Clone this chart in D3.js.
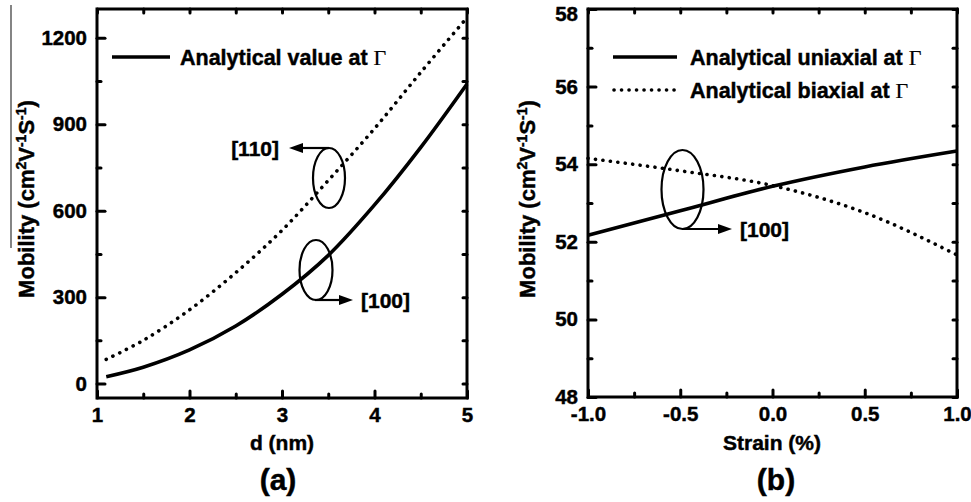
<!DOCTYPE html>
<html><head><meta charset="utf-8">
<script src="https://cdn.jsdelivr.net/npm/d3@7"></script>
<style>
html,body{margin:0;padding:0;background:#fff;}
svg{display:block;}
text{font-family:"Liberation Sans",Arial,sans-serif;font-weight:bold;fill:#000;stroke:#000;stroke-width:0.45px;}
</style></head>
<body>
<svg id="c" width="971" height="502"></svg>
<script>
// ---- data ----
const dNm = [1.1, 1.5, 2, 2.5, 3, 3.5, 4, 4.5, 5];
const mob100 = [24, 57, 117, 200, 310, 445, 620, 820, 1040];
const mob110 = [84, 150, 256, 385, 532, 705, 885, 1080, 1270];
const strain = [-1, -0.5, 0, 0.5, 1];
const uniaxial = [52.17, 52.80, 53.43, 53.93, 54.34];
const biaxial = [54.15, 53.83, 53.45, 52.75, 51.66];
const xTicksA = [1, 2, 3, 4, 5];
const xMinorA = [1.5, 2.5, 3.5, 4.5];
const yTicksA = [0, 300, 600, 900, 1200];
const yMinorA = [150, 450, 750, 1050];
const xTicksB = [-1, -0.5, 0, 0.5, 1];
const xMinorB = [-0.75, -0.25, 0.25, 0.75];
const yTicksB = [48, 50, 52, 54, 56, 58];
const yMinorB = [49, 51, 53, 55, 57];

const svg = d3.select("#c");

function panel(o) {
  const g = svg.append("g");
  const x = d3.scaleLinear().domain(o.xd).range([o.l, o.r]);
  const y = d3.scaleLinear().domain(o.yd).range([o.b, o.t]);
  const style = s => s.call(a => a.select(".domain").remove())
    .call(a => a.selectAll("line").attr("stroke", "#000").attr("stroke-width", 3).attr("stroke-linecap", "round"))
    .call(a => a.selectAll("text").style("font-size", "20.5px").style("font-family", "'Liberation Sans',Arial,sans-serif").style("font-weight", "bold"));
  g.append("g").attr("transform", `translate(0,${o.b})`)
    .call(d3.axisBottom(x).tickValues(o.xt).tickSize(-7).tickPadding(9).tickFormat(o.xf)).call(style);
  g.append("g").attr("transform", `translate(0,${o.b})`)
    .call(d3.axisBottom(x).tickValues(o.xm).tickSize(-4).tickFormat("")).call(style);
  const yl = g.append("g").attr("transform", `translate(${o.l},0)`)
    .call(d3.axisLeft(y).tickValues(o.yt).tickSize(-8).tickPadding(10).tickFormat(o.yf)).call(style);
  g.append("g").attr("transform", `translate(${o.l},0)`)
    .call(d3.axisLeft(y).tickValues(o.ym).tickSize(-4).tickFormat("")).call(style);
  g.append("g").attr("transform", `translate(0,${o.t})`)
    .call(d3.axisTop(x).tickValues(o.xt.concat(o.xm)).tickSize(-4).tickFormat("")).call(style);
  g.append("g").attr("transform", `translate(${o.r},0)`)
    .call(d3.axisRight(y).tickValues(o.yt.concat(o.ym)).tickSize(-4).tickFormat("")).call(style);
  g.append("rect").attr("x", o.l).attr("y", o.t).attr("width", o.r - o.l).attr("height", o.b - o.t)
    .attr("fill", "none").attr("stroke", "#000").attr("stroke-width", 3);
  return {g, x, y, yl};
}

function arrow(g, x1, y1, x2, y2) {
  const dir = Math.sign(x2 - x1);
  g.append("line").attr("x1", x1).attr("y1", y1).attr("x2", x2 - dir * 10).attr("y2", y2)
    .attr("stroke", "#000").attr("stroke-width", 2.2);
  g.append("path").attr("d", `M${x2},${y2} L${x2 - dir * 14},${y2 - 5} L${x2 - dir * 14},${y2 + 5} Z`).attr("fill", "#000");
}

function ylabel(g, cx, cy) {
  const t = g.append("text").attr("transform", `translate(${cx},${cy}) rotate(-90)`)
    .attr("text-anchor", "middle").style("font-size", "22px");
  t.append("tspan").text("Mobility (cm");
  t.append("tspan").attr("dy", -8).style("font-size", "14px").text("2");
  t.append("tspan").attr("dy", 8).text("V");
  t.append("tspan").attr("dy", -8).style("font-size", "14px").text("-1");
  t.append("tspan").attr("dy", 8).text("S");
  t.append("tspan").attr("dy", -8).style("font-size", "14px").text("-1");
  t.append("tspan").attr("dy", 8).text(")");
}

function legendText(g, x, y, s) {
  const t = g.append("text").attr("x", x).attr("y", y).style("font-size", "21.5px");
  t.append("tspan").text(s + " ");
  t.append("tspan").style("font-family", "'Liberation Serif','Times New Roman',serif").style("font-weight", "normal").style("stroke-width", "0.2px").style("font-size", "22px").text("Γ");
}

// ---------- panel (a) ----------
const A = panel({l: 97, r: 467, t: 9, b: 398, xd: [1, 5], yd: [-50, 1300],
  xt: xTicksA, xm: xMinorA, yt: yTicksA, ym: yMinorA, xf: d3.format("d"), yf: d3.format("d")});
const lineA = d3.line().curve(d3.curveCatmullRom);
A.g.append("path").attr("d", lineA(dNm.map((d, i) => [A.x(d), A.y(mob110[i])])))
  .attr("fill", "none").attr("stroke", "#000").attr("stroke-width", 3.6)
  .attr("stroke-dasharray", "0.1 7.4").attr("stroke-linecap", "round");
A.g.append("path").attr("d", lineA(dNm.map((d, i) => [A.x(d), A.y(mob100[i])])))
  .attr("fill", "none").attr("stroke", "#000").attr("stroke-width", 3.6);
A.g.append("line").attr("x1", 112).attr("x2", 170).attr("y1", 57).attr("y2", 57).attr("stroke", "#000").attr("stroke-width", 3.6);
legendText(A.g, 180, 65, "Analytical value at");
A.g.append("ellipse").attr("cx", 329).attr("cy", 178).attr("rx", 16).attr("ry", 30).attr("fill", "none").attr("stroke", "#000").attr("stroke-width", 2.2);
arrow(A.g, 329, 148, 289, 148);
A.g.append("text").attr("x", 279).attr("y", 156).attr("text-anchor", "end").style("font-size", "21px").text("[110]");
A.g.append("ellipse").attr("cx", 316).attr("cy", 270).attr("rx", 16.5).attr("ry", 30).attr("fill", "none").attr("stroke", "#000").attr("stroke-width", 2.2);
arrow(A.g, 315, 300, 353, 300);
A.g.append("text").attr("x", 361).attr("y", 308).style("font-size", "21px").text("[100]");
ylabel(A.g, 34, 199);
A.g.append("line").attr("x1", 11).attr("x2", 11).attr("y1", 5).attr("y2", 248).attr("stroke", "#333").attr("stroke-width", 1.2);
A.g.append("text").attr("x", 282).attr("y", 450).attr("text-anchor", "middle").style("font-size", "21px").text("d (nm)");
A.g.append("text").attr("x", 278).attr("y", 490).attr("text-anchor", "middle").style("font-size", "30px").text("(a)");

// ---------- panel (b) ----------
const B = panel({l: 588, r: 957, t: 9, b: 397, xd: [-1, 1], yd: [48, 58],
  xt: xTicksB, xm: xMinorB, yt: yTicksB, ym: yMinorB, xf: d3.format(".1f"), yf: d3.format("d")});
B.g.selectAll("text").filter(function(){ return this.textContent.startsWith("−"); }).text(function(){ return this.textContent.replace("−", "-"); });
// top label sits a little lower so it is not clipped
B.yl.selectAll(".tick").filter(d => d === 58).select("text").attr("dy", "0.72em").attr("y", -3);
const lineB = d3.line().curve(d3.curveMonotoneX);
B.g.append("path").attr("d", lineB(strain.map((d, i) => [B.x(d), B.y(biaxial[i])])))
  .attr("fill", "none").attr("stroke", "#000").attr("stroke-width", 3.6)
  .attr("stroke-dasharray", "0.1 7.4").attr("stroke-linecap", "round");
B.g.append("path").attr("d", lineB(strain.map((d, i) => [B.x(d), B.y(uniaxial[i])])))
  .attr("fill", "none").attr("stroke", "#000").attr("stroke-width", 3.6);
B.g.append("line").attr("x1", 613).attr("x2", 677).attr("y1", 57).attr("y2", 57).attr("stroke", "#000").attr("stroke-width", 3.6);
B.g.append("line").attr("x1", 614).attr("x2", 677).attr("y1", 90).attr("y2", 90).attr("stroke", "#000").attr("stroke-width", 3.6)
  .attr("stroke-dasharray", "0.1 7.4").attr("stroke-linecap", "round");
legendText(B.g, 690, 65, "Analytical uniaxial at");
legendText(B.g, 690, 98, "Analytical biaxial at");
B.g.append("ellipse").attr("cx", 682.5).attr("cy", 189.5).attr("rx", 21).attr("ry", 39.5).attr("fill", "none").attr("stroke", "#000").attr("stroke-width", 2.2);
arrow(B.g, 682, 229, 732, 229);
B.g.append("text").attr("x", 740).attr("y", 237).style("font-size", "21px").text("[100]");
ylabel(B.g, 535, 199);
B.g.append("text").attr("x", 772).attr("y", 450).attr("text-anchor", "middle").style("font-size", "21px").text("Strain (%)");
B.g.append("text").attr("x", 776).attr("y", 490).attr("text-anchor", "middle").style("font-size", "30px").text("(b)");
</script>
</body></html>
